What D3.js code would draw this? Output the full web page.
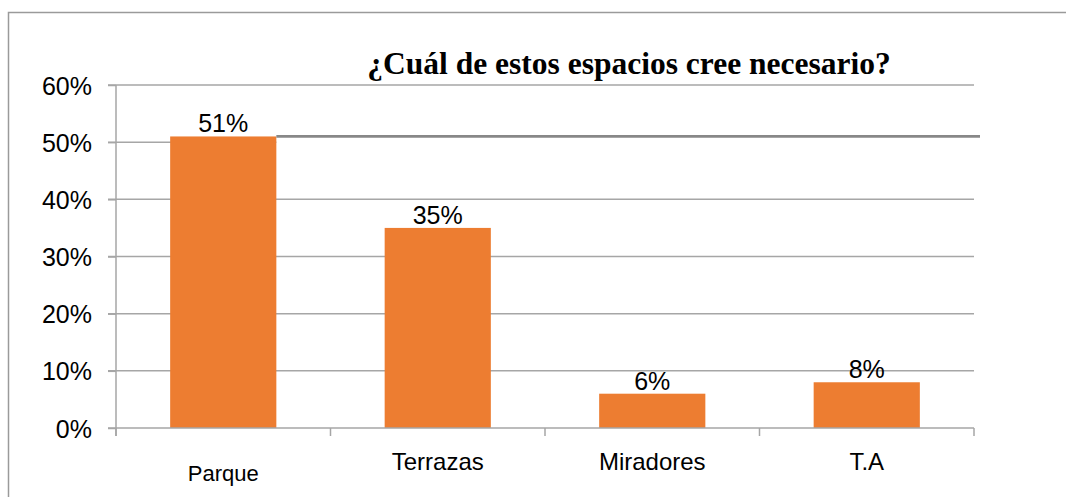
<!DOCTYPE html>
<html>
<head>
<meta charset="utf-8">
<script src="https://cdn.jsdelivr.net/npm/d3@7"></script>
<style>
  body { margin: 0; background: #fff; }
  text { fill: #000; }
</style>
</head>
<body>
<div id="chart-area"></div>
<script>
// Data
var categories = ["Parque", "Terrazas", "Miradores", "T.A"];
var values = [0.51, 0.35, 0.06, 0.08];
var yTicks = [0, 0.1, 0.2, 0.3, 0.4, 0.5, 0.6];
var title = "¿Cuál de estos espacios cree necesario?";

var sans = "'Liberation Sans', Arial, sans-serif";
var serif = "'Liberation Serif', 'Times New Roman', serif";

var W = 1066, H = 497;
var margin = { left: 116, right: 92, top: 85, bottom: 69 },
  width = W - margin.left - margin.right,
  height = H - margin.top - margin.bottom;

var svg = d3.select("#chart-area").append("svg")
  .attr("width", W)
  .attr("height", H);

// outer frame (only top and left edges visible)
svg.append("path")
  .attr("d", "M8.5," + H + "V12.5H" + W)
  .attr("fill", "none")
  .attr("stroke", "#9a9a9a")
  .attr("stroke-width", 1.5);

var g = svg.append("g")
  .attr("transform", "translate(" + margin.left + "," + margin.top + ")");

// Scales
var x = d3.scaleBand().domain(categories).range([0, width])
  .paddingInner(0.505).paddingOuter(0.2525);
var y = d3.scaleLinear().domain([0, 0.6]).range([height, 0]);

// Gridlines (50% one stops at the first bar)
g.selectAll(".grid").data(yTicks.filter(function(d) { return d > 0; }))
  .enter().append("line")
  .attr("class", "grid")
  .attr("x1", -8)
  .attr("x2", function(d) { return d === 0.5 ? x("Parque") + x.bandwidth() : width; })
  .attr("y1", function(d) { return y(d); })
  .attr("y2", function(d) { return y(d); })
  .attr("stroke", "#a6a6a6")
  .attr("stroke-width", 1.5);

// Y axis
var yAxis = g.append("g")
  .call(d3.axisLeft(y).tickValues(yTicks).tickSize(8).tickPadding(16)
    .tickFormat(d3.format(".0%")));
yAxis.select(".domain").attr("stroke", "#a6a6a6").attr("stroke-width", 1.5)
  .attr("d", "M0," + (height + 8) + "V0");
yAxis.selectAll(".tick line").attr("stroke", "#a6a6a6").attr("stroke-width", 1.5);
yAxis.selectAll(".tick text")
  .style("font-family", sans)
  .style("font-size", "25px")
  .attr("dy", "0.36em");

// Bars
g.selectAll(".bar").data(values)
  .enter().append("rect")
  .attr("class", "bar")
  .attr("x", function(d, i) { return x(categories[i]); })
  .attr("width", x.bandwidth())
  .attr("y", function(d) { return y(d); })
  .attr("height", function(d) { return height - y(d); })
  .attr("fill", "#ED7D31");

// X axis with ticks at category boundaries
var xb = g.append("g").attr("transform", "translate(0," + height + ")");
xb.append("line")
  .attr("x1", -8).attr("x2", width)
  .attr("stroke", "#a6a6a6").attr("stroke-width", 1.5);
var bounds = d3.range(categories.length + 1).map(function(i) { return i * x.step(); });
xb.selectAll(".xt").data(bounds).enter().append("line")
  .attr("x1", function(d) { return d; }).attr("x2", function(d) { return d; })
  .attr("y1", 0).attr("y2", 8)
  .attr("stroke", "#a6a6a6").attr("stroke-width", 1.5);

xb.selectAll(".xl").data(categories).enter().append("text")
  .attr("x", function(d) { return x(d) + x.bandwidth() / 2; })
  .attr("y", function(d, i) { return i === 0 ? 53 : 42; })
  .attr("text-anchor", "middle")
  .style("font-family", sans)
  .style("font-size", function(d, i) { return i === 0 ? "22px" : "24px"; })
  .text(function(d) { return d; });

// Reference line at the first bar's value
g.append("line")
  .attr("x1", x("Parque") + x.bandwidth())
  .attr("x2", width + 6)
  .attr("y1", y(values[0]))
  .attr("y2", y(values[0]))
  .attr("stroke", "#888")
  .attr("stroke-width", 2.7);

// Data labels
g.selectAll(".lbl").data(values)
  .enter().append("text")
  .attr("x", function(d, i) { return x(categories[i]) + x.bandwidth() / 2; })
  .attr("y", function(d) { return y(d) - 4; })
  .attr("text-anchor", "middle")
  .style("font-family", sans)
  .style("font-size", "25px")
  .text(function(d) { return d3.format(".0%")(d); });

// Title
svg.append("text")
  .attr("x", 629)
  .attr("y", 74)
  .attr("text-anchor", "middle")
  .style("font-family", serif)
  .style("font-weight", "bold")
  .style("font-size", "31.5px")
  .text(title);
</script>
</body>
</html>
